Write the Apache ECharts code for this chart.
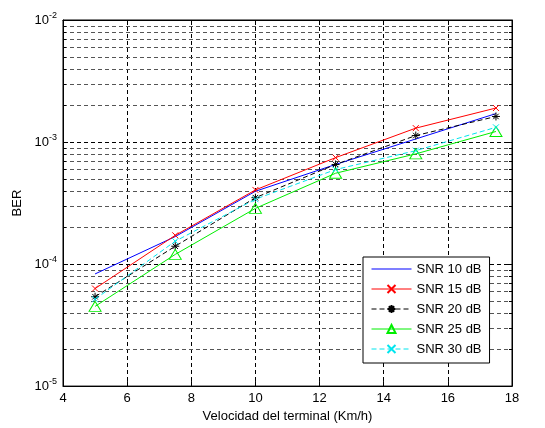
<!DOCTYPE html>
<html><head><meta charset="utf-8">
<script src="https://cdn.jsdelivr.net/npm/echarts@6/dist/echarts.min.js"></script>
<style>html,body{margin:0;padding:0;background:#fff}#c{width:545px;height:428px}</style>
</head><body><div id="c"></div>
<script>
var xVals = [5, 7.5, 10, 12.5, 15, 17.5];
var snr10 = [8.3e-5, 1.68e-4, 3.95e-4, 6.55e-4, 1.06e-3, 1.71e-3];
var snr15 = [6.3e-5, 1.72e-4, 4.05e-4, 7.45e-4, 1.30e-3, 1.90e-3];
var snr20 = [5.4e-5, 1.40e-4, 3.50e-4, 6.55e-4, 1.13e-3, 1.62e-3];
var snr25 = [4.5e-5, 1.20e-4, 2.86e-4, 5.55e-4, 8.0e-4, 1.22e-3];
var snr30 = [5.15e-5, 1.54e-4, 3.40e-4, 5.95e-4, 8.5e-4, 1.32e-3];
var seriesNames = ['SNR 10 dB', 'SNR 15 dB', 'SNR 20 dB', 'SNR 25 dB', 'SNR 30 dB'];
var minorGrid = [2e-5,3e-5,4e-5,5e-5,6e-5,7e-5,8e-5,9e-5,
                 2e-4,3e-4,4e-4,5e-4,6e-4,7e-4,8e-4,9e-4,
                 2e-3,3e-3,4e-3,5e-3,6e-3,7e-3,8e-3,9e-3];
var xLabel = 'Velocidad del terminal (Km/h)';
var yLabel = 'BER';
var X_MIN = 4, X_MAX = 18;

function pairs(arr){ return xVals.map(function(x,i){return [x, arr[i]];}); }

var FONT = 'Liberation Sans, Arial, sans-serif';
var xPath = 'path://M0,0L10,10M10,0L0,10';
var starPath = 'path://M5,0L5,10M0,5L10,5M1.6,1.6L8.4,8.4M8.4,1.6L1.6,8.4';

function mk(name, data, color, sym, size, dashed){
  return {
    name: name, type: 'line', data: pairs(data),
    symbol: sym, symbolSize: size, showSymbol: sym !== 'none',
    lineStyle: {color: color, width: 1, type: dashed ? [5,3] : 'solid'},
    itemStyle: {color: 'rgba(0,0,0,0)', borderColor: color, borderWidth: 1},
    emphasis: {disabled: true}, z: 5, animation: false
  };
}

var legendData = seriesNames.map(function(n, i){
  if (i === 0) return {name: n, icon: 'path://M0,0L40,0L40,1L0,1Z', itemStyle: {color: '#0000ff', borderWidth: 0}};
  return {name: n};
});

var chart = echarts.init(document.getElementById('c'), null, {renderer: 'canvas'});
chart.setOption({
  animation: false,
  backgroundColor: '#fff',
  grid: {left: 63, right: 33, top: 20, bottom: 39, show: true, borderColor: '#000', borderWidth: 1, backgroundColor: 'transparent'},
  legend: {
    data: legendData, orient: 'vertical', left: 363, top: 257,
    backgroundColor: '#fff', borderColor: '#000', borderWidth: 1,
    padding: [5, 8, 7, 8], itemWidth: 40, itemHeight: 10, itemGap: 6,
    lineStyle: {width: 1},
    textStyle: {fontFamily: FONT, fontSize: 13, color: '#000', lineHeight: 14},
    selectedMode: false
  },
  xAxis: [{
    type: 'value', min: X_MIN, max: X_MAX, interval: 2,
    name: xLabel, nameLocation: 'middle', nameGap: 23,
    nameTextStyle: {fontFamily: FONT, fontSize: 13, color: '#000'},
    axisLine: {show: true, lineStyle: {color: '#000'}},
    axisTick: {inside: true, length: 5, lineStyle: {color: '#000'}},
    axisLabel: {fontFamily: FONT, fontSize: 13, color: '#000', margin: 6},
    splitLine: {show: true, lineStyle: {color: '#000', type: [4,3], width: 1}}
  },{
    type: 'value', min: X_MIN, max: X_MAX, interval: 2, position: 'top',
    axisLine: {show: true, lineStyle: {color: '#000'}},
    axisTick: {inside: true, length: 5, lineStyle: {color: '#000'}},
    axisLabel: {show: false}, splitLine: {show: false}
  }],
  yAxis: [{
    type: 'log', logBase: 10, min: 1e-5, max: 1e-2,
    name: yLabel, nameLocation: 'middle', nameGap: 37,
    nameTextStyle: {fontFamily: FONT, fontSize: 13, color: '#000'},
    axisLine: {show: true, lineStyle: {color: '#000'}},
    axisTick: {inside: true, length: 5, lineStyle: {color: '#000'}},
    axisLabel: {
      fontFamily: FONT, fontSize: 13, color: '#000', margin: 6,
      formatter: function(v){ var e = Math.round(Math.log10(v)); return '{b|10}{s|' + e + '}'; },
      rich: {b: {fontFamily: FONT, fontSize: 13, color: '#000'},
             s: {fontFamily: FONT, fontSize: 9, color: '#000', padding: [0,0,9,0]}}
    },
    splitLine: {show: true, lineStyle: {color: '#000', type: [4,3], width: 1}}
  },{
    type: 'log', logBase: 10, min: 1e-5, max: 1e-2, position: 'right',
    axisLine: {show: true, lineStyle: {color: '#000'}},
    axisTick: {inside: true, length: 5, lineStyle: {color: '#000'}},
    axisLabel: {show: false}, splitLine: {show: false}
  }],
  series: [
    {
      name: 'minorgrid', type: 'custom', silent: true, z: 1,
      data: minorGrid.map(function(v){ return [X_MIN, v]; }),
      encode: {x: 0, y: 1},
      renderItem: function(params, api){
        var p0 = api.coord([X_MIN, api.value(1)]);
        var p1 = api.coord([X_MAX, api.value(1)]);
        var y = Math.round(p0[1]) + 0.5;
        return {
          type: 'group', children: [
            {type: 'line', shape: {x1: p0[0], y1: y, x2: p1[0], y2: y},
             style: {stroke: '#555', lineWidth: 1, lineDash: [4,3], fill: null}},
            {type: 'line', shape: {x1: p0[0], y1: y, x2: p0[0] + 3, y2: y},
             style: {stroke: '#000', lineWidth: 1, fill: null}},
            {type: 'line', shape: {x1: p1[0] - 3, y1: y, x2: p1[0], y2: y},
             style: {stroke: '#000', lineWidth: 1, fill: null}}
          ]
        };
      }
    },
    mk(seriesNames[0], snr10, '#0000ff', 'none', 0, false),
    mk(seriesNames[1], snr15, '#ff0000', xPath, 6, false),
    mk(seriesNames[2], snr20, '#000000', starPath, 8, true),
    mk(seriesNames[3], snr25, '#00ee00', 'triangle', [12, 10], false),
    mk(seriesNames[4], snr30, '#00e5ee', xPath, 6, true)
  ]
});
</script></body></html>
